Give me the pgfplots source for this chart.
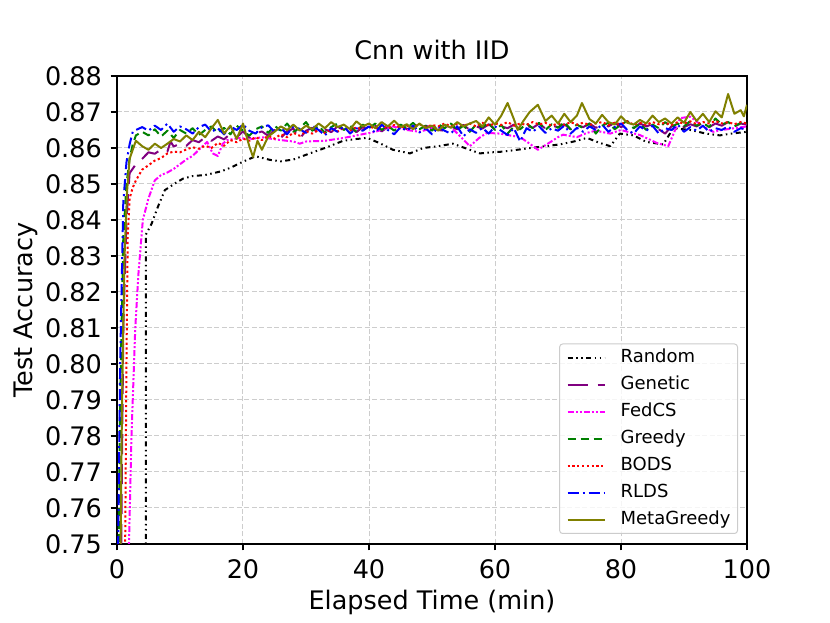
\documentclass[border=0pt]{standalone}
\usepackage{fontspec}
\setmainfont{DejaVu Sans}
\usepackage{pgfplots}
\pgfplotsset{compat=1.18}
\definecolor{mpurple}{RGB}{128,0,128}
\definecolor{molive}{RGB}{128,128,0}
\definecolor{mgreen}{RGB}{0,128,0}
\definecolor{mmagenta}{RGB}{255,0,255}
\definecolor{mred}{RGB}{255,0,0}
\definecolor{mblue}{RGB}{0,0,255}
\definecolor{gridc}{RGB}{205,205,205}
\definecolor{legc}{RGB}{204,204,204}
\begin{document}
\begin{tikzpicture}
\path[use as bounding box] (-117bp,-79bp) rectangle (713bp,544bp);
\begin{axis}[
  at={(0,0)}, anchor=south west,
  width=630bp, height=468bp, scale only axis,
  xmin=0, xmax=100, ymin=0.75, ymax=0.88,
  xtick={0,20,40,60,80,100},
  ytick={0.75,0.76,0.77,0.78,0.79,0.80,0.81,0.82,0.83,0.84,0.85,0.86,0.87,0.88},
  yticklabel style={/pgf/number format/fixed, /pgf/number format/fixed zerofill, /pgf/number format/precision=2, anchor=east, inner sep=0pt, xshift=-8.7bp},
  /pgf/number format/assume math mode=true,
  ticklabel style={font=\fontsize{25.5bp}{30bp}\selectfont},
  xticklabel style={anchor=base, inner sep=0pt, yshift=-27.7bp},
  grid=major,
  major grid style={gridc, line width=1bp, dash pattern=on 5bp off 2.5bp},
  axis line style={line width=1.4bp, black},
  tick style={line width=1.4bp, black},
  major tick length=6.3bp,
  tick align=outside,
  tick pos=left,
  no marks,
  title={Cnn with IID},
  title style={font=\fontsize{25.5bp}{30bp}\selectfont, at={(axis description cs:0.5,1.0231)}, anchor=base, inner sep=0pt},
  xlabel={Elapsed Time (min)},
  ylabel={Test Accuracy},
  xlabel style={font=\fontsize{25.5bp}{30bp}\selectfont, at={(axis description cs:0.5,-0.141)}, anchor=base, inner sep=0pt},
  ylabel style={font=\fontsize{25.5bp}{30bp}\selectfont, at={(axis description cs:-0.1349,0.5)}, anchor=base, inner sep=0pt},
  legend style={at={(axis description cs:1,0)}, anchor=south east, xshift=-9bp, yshift=10bp,
    draw=legc, line width=1bp, rounded corners=3bp, fill=white, fill opacity=0.8, text opacity=1,
    inner xsep=7bp, inner ysep=5bp, row sep=9.5bp, column sep=15bp,
    font=\fontsize{18bp}{21bp}\selectfont,
    nodes={inner sep=0pt, text height=13.5bp, text depth=4bp}},
  legend cell align=left,
  legend image code/.code={\draw[#1] (0bp,0bp) -- (37bp,0bp);},
  every axis plot/.append style={line width=2bp, line join=round},
]
% Random
\addplot[black, dash pattern=on 5bp off 3.5bp on 1.5bp off 3.5bp on 1.5bp off 3.5bp] coordinates {
(4.55,0.70)(4.6,0.836)(5.5,0.839)(6.5,0.8437)(7.6,0.8483)(9.5,0.8505)(10.5,0.8515)(12,0.8522)(14,0.8525)(16.5,0.8535)(18,0.8545)(20,0.8562)(22,0.8577)(24.3,0.8567)(26,0.8563)(28,0.8568)(30.6,0.8585)(33,0.8600)(35.9,0.8620)(38,0.8625)(39.7,0.8628)(41.5,0.8615)(43.8,0.8595)(46.5,0.8585)(48.6,0.8600)(51,0.8605)(53.3,0.8612)(56,0.8595)(57.6,0.8585)(59.5,0.8588)(61.3,0.8590)(63.5,0.8595)(65.6,0.8600)(68,0.8605)(70.3,0.8610)(72.5,0.8618)(74.6,0.8628)(76.5,0.8615)(78.3,0.8605)(79.8,0.8640)(82,0.8635)(84,0.8617)(86.7,0.8610)(88.3,0.8655)(91,0.8650)(93.5,0.8640)(95.7,0.8635)(97.5,0.8640)(100,0.8645)
};
\addlegendentry{Random}
% Genetic
\addplot[mpurple, dash pattern=on 20bp off 10bp] coordinates {
(0.4,0.70)(1,0.81)(1.5,0.840)(2,0.853)(3,0.8555)(4,0.8570)(5,0.8588)(6,0.8584)(7,0.8596)(8,0.8590)(8.5,0.8618)(9,0.8604)(10,0.8612)(11,0.8606)(12,0.8622)(13,0.8616)(14,0.8630)(15,0.8620)(16,0.8632)(17,0.8624)(18,0.8640)(19,0.8630)(20,0.8646)(21,0.8628)(22,0.8640)(23,0.8646)(24,0.8634)(25,0.8650)(26,0.8628)(27,0.8646)(28,0.8654)(29,0.8626)(30,0.8648)(31,0.8656)(32,0.8640)(33,0.8652)(34,0.8644)(35,0.8660)(36,0.8648)(37,0.8656)(38,0.8644)(39,0.8658)(40,0.8650)(41,0.8662)(42,0.8646)(43,0.8658)(44,0.8650)(45,0.8664)(46,0.8652)(47,0.8660)(48,0.8648)(49,0.8662)(50,0.8655)(51,0.8650)(52,0.8648)(53,0.8660)(54,0.8652)(55,0.8664)(56,0.8650)(57,0.8660)(58,0.8654)(59,0.8666)(60,0.8652)(61,0.8660)(62,0.8655)(63,0.8665)(64,0.8650)(65,0.8662)(66,0.8656)(67,0.8668)(68,0.8654)(69,0.8662)(70,0.8658)(71,0.8666)(72,0.8652)(73,0.8664)(74,0.8658)(75,0.8668)(76,0.8656)(77,0.8664)(78,0.8660)(79,0.8670)(80,0.8658)(81,0.8665)(82,0.8655)(83,0.8668)(84,0.8660)(85,0.8666)(86,0.8652)(87,0.8640)(88,0.8660)(89,0.8668)(90,0.8658)(91,0.8666)(92,0.8660)(93,0.8670)(94,0.8658)(95,0.8668)(96,0.8662)(97,0.8672)(98,0.8660)(99,0.8668)(100,0.8665)
};
\addlegendentry{Genetic}
% FedCS
\addplot[mmagenta, dash pattern=on 6bp off 2bp on 2bp off 2bp on 2bp off 2bp] coordinates {
(1.8,0.70)(1.9,0.75)(2.3,0.78)(2.9,0.81)(3.4,0.825)(4.1,0.840)(5,0.846)(6,0.8510)(7,0.8525)(8,0.8532)(9,0.8542)(10,0.8555)(11,0.8568)(12,0.8578)(13,0.8595)(14.3,0.8617)(15.2,0.8585)(16,0.8578)(16.8,0.8612)(17.5,0.8622)(18.5,0.8625)(19.5,0.8628)(21,0.8624)(23,0.8630)(24,0.8627)(26,0.8622)(28,0.8618)(29,0.8612)(30,0.8618)(33,0.8620)(36,0.8628)(38.6,0.8637)(41,0.8645)(43.8,0.8660)(46,0.8650)(48,0.8645)(50,0.8655)(52.9,0.8660)(54.5,0.8632)(56,0.8605)(57.5,0.8628)(58.7,0.8642)(60.8,0.8640)(62,0.8636)(64,0.8630)(65.5,0.8612)(66.8,0.8595)(68.2,0.8610)(70,0.8630)(70.8,0.8637)(73,0.8630)(74.6,0.8642)(76,0.8648)(78.3,0.8640)(80,0.8650)(83,0.8636)(85.7,0.8614)(87.5,0.8605)(89.4,0.8683)(91,0.8687)(93,0.8660)(94.6,0.8645)(96,0.8650)(98,0.8655)(100,0.8660)
};
\addlegendentry{FedCS}
% Greedy
\addplot[mgreen, dash pattern=on 8bp off 5bp] coordinates {
(0,0.70)(0.5,0.79)(1,0.835)(1.5,0.850)(2,0.857)(2.5,0.861)(3,0.8635)(4,0.8645)(5,0.8635)(6,0.8652)(7,0.8632)(8,0.8648)(9,0.8628)(10,0.8650)(11,0.8640)(12,0.8655)(13,0.8636)(14,0.8650)(15,0.8660)(16,0.8642)(17,0.8656)(18,0.8638)(19,0.8662)(20,0.8648)(21,0.8634)(22,0.8652)(23,0.8660)(24,0.8642)(25,0.8662)(26,0.8648)(27,0.8668)(28,0.8645)(29,0.8655)(30,0.8672)(31,0.8648)(32,0.8662)(33,0.8642)(34,0.8658)(35,0.8668)(36,0.8650)(37,0.8662)(38,0.8645)(39,0.8665)(40,0.8655)(41,0.8668)(42,0.8650)(43,0.8662)(44,0.8648)(45,0.8665)(46,0.8655)(47,0.8670)(48,0.8652)(49,0.8662)(50,0.8648)(51,0.8666)(52,0.8655)(53,0.8668)(54,0.8650)(55,0.8662)(56,0.8645)(57,0.8665)(58,0.8658)(59,0.8670)(60,0.8650)(61,0.8664)(62,0.8640)(63,0.8660)(64,0.8652)(65,0.8668)(66,0.8655)(67,0.8670)(68,0.8650)(69,0.8666)(70,0.8656)(71,0.8672)(72,0.8652)(73,0.8665)(74,0.8655)(75,0.8668)(76,0.8640)(77,0.8662)(78,0.8670)(79,0.8652)(80,0.8665)(81,0.8675)(82,0.8655)(83,0.8668)(84,0.8650)(85,0.8665)(86,0.8655)(87,0.8672)(88,0.8658)(89,0.8668)(90,0.8660)(91,0.8675)(92,0.8662)(93,0.8670)(94,0.8658)(95,0.8682)(96,0.8665)(97,0.8672)(98,0.8660)(99,0.8670)(100,0.8668)
};
\addlegendentry{Greedy}
% BODS
\addplot[mred, dash pattern=on 2.2bp off 2.6bp] coordinates {
(1.1,0.70)(1.3,0.75)(1.5,0.80)(1.7,0.835)(2,0.846)(2.5,0.849)(3,0.851)(4,0.8540)(5,0.8552)(6,0.8565)(7,0.8572)(8,0.8585)(9,0.8590)(10,0.8588)(11,0.8596)(12,0.8602)(13,0.8598)(14,0.8606)(15,0.8600)(16,0.8614)(17,0.8606)(18,0.8622)(19,0.8616)(20,0.8626)(21,0.8620)(22,0.8630)(23,0.8622)(24,0.8634)(25,0.8626)(26,0.8638)(27,0.8630)(28,0.8642)(29,0.8634)(30,0.8646)(31,0.8640)(32,0.8650)(33,0.8642)(34,0.8652)(35,0.8646)(36,0.8656)(37,0.8648)(38,0.8658)(39,0.8650)(40,0.8660)(41,0.8654)(42,0.8662)(43,0.8655)(44,0.8664)(45,0.8656)(46,0.8662)(47,0.8658)(48,0.8666)(49,0.8658)(50,0.8664)(51,0.8660)(52,0.8668)(53,0.8660)(54,0.8666)(55,0.8662)(56,0.8668)(57,0.8660)(58,0.8670)(59,0.8662)(60,0.8668)(61,0.8664)(62,0.8672)(63,0.8662)(64,0.8668)(65,0.8664)(66,0.8672)(67,0.8665)(68,0.8670)(69,0.8662)(70,0.8668)(71,0.8664)(72,0.8672)(73,0.8665)(74,0.8670)(75,0.8664)(76,0.8668)(77,0.8672)(78,0.8664)(79,0.8670)(80,0.8666)(81,0.8674)(82,0.8665)(83,0.8670)(84,0.8664)(85,0.8672)(86,0.8666)(87,0.8670)(88,0.8664)(89,0.8672)(90,0.8668)(91,0.8674)(92,0.8666)(93,0.8672)(94,0.8668)(95,0.8675)(96,0.8668)(97,0.8672)(98,0.8666)(99,0.8672)(100,0.8668)
};
\addlegendentry{BODS}
% RLDS
\addplot[mblue, dash pattern=on 11bp off 4bp on 2bp off 4bp] coordinates {
(0,0.72)(0.5,0.80)(1,0.845)(1.5,0.856)(2,0.861)(2.5,0.8645)(3,0.8650)(4,0.8658)(5,0.8648)(6,0.8662)(7,0.8650)(8,0.8668)(9,0.8645)(10,0.8660)(11,0.8652)(12,0.8640)(13,0.8658)(14,0.8665)(15,0.8645)(16,0.8655)(17,0.8638)(18,0.8660)(19,0.8650)(20,0.8665)(21,0.8648)(22,0.8640)(23,0.8658)(24,0.8663)(25,0.8645)(26,0.8656)(27,0.8638)(28,0.8660)(29,0.8652)(30,0.8642)(31,0.8662)(32,0.8650)(33,0.8635)(34,0.8655)(35,0.8645)(36,0.8660)(37,0.8640)(38,0.8655)(39,0.8648)(40,0.8660)(41,0.8642)(42,0.8665)(43,0.8650)(44,0.8638)(45,0.8658)(46,0.8648)(47,0.8662)(48,0.8643)(49,0.8655)(50,0.8638)(51,0.8658)(52,0.8648)(53,0.8640)(54,0.8660)(55,0.8632)(56,0.8652)(57,0.8642)(58,0.8656)(59,0.8640)(60,0.8660)(61,0.8648)(62,0.8636)(63,0.8655)(64,0.8618)(65,0.8655)(66,0.8645)(67,0.8660)(68,0.8642)(69,0.8655)(70,0.8648)(71,0.8662)(72,0.8640)(73,0.8656)(74,0.8645)(75,0.8660)(76,0.8650)(77,0.8665)(78,0.8645)(79,0.8658)(80,0.8668)(81,0.8650)(82,0.8640)(83,0.8660)(84,0.8648)(85,0.8662)(86,0.8640)(87,0.8655)(88,0.8650)(89,0.8665)(90,0.8645)(91,0.8658)(92,0.8648)(93,0.8662)(94,0.8645)(95,0.8655)(96,0.8650)(97,0.8660)(98,0.8645)(99,0.8655)(100,0.8650)
};
\addlegendentry{RLDS}
% MetaGreedy
\addplot[molive] coordinates {
(0.3,0.70)(0.8,0.79)(1.2,0.83)(1.6,0.848)(2,0.857)(3,0.8620)(4,0.8605)(5,0.8595)(6,0.8612)(7,0.8600)(8,0.8612)(9,0.8625)(10,0.8618)(11,0.8635)(12,0.8622)(13,0.8645)(14,0.8630)(15,0.8655)(16,0.8678)(17,0.8640)(18,0.8662)(19,0.8625)(20,0.8668)(21,0.8605)(21.6,0.8575)(22.3,0.8620)(23,0.8595)(24,0.8632)(25,0.8645)(26,0.8660)(27,0.8650)(28,0.8665)(29,0.8648)(30,0.8662)(31,0.8652)(32,0.8668)(33,0.8655)(34,0.8672)(35,0.8658)(36,0.8665)(37,0.8652)(38,0.8674)(39,0.8660)(40,0.8668)(41,0.8655)(42,0.8672)(43,0.8660)(44,0.8676)(45,0.8658)(46,0.8666)(47,0.8652)(48,0.8668)(49,0.8655)(50,0.8662)(51,0.8648)(52,0.8665)(53,0.8656)(54,0.8672)(55,0.8660)(56,0.8668)(57,0.8675)(58,0.8660)(59,0.8685)(60,0.8665)(61,0.8690)(62,0.8725)(63,0.8680)(63.6,0.8650)(64.5,0.8675)(65.5,0.8700)(66.8,0.8720)(68,0.8675)(69,0.8690)(70,0.8668)(71,0.8695)(72,0.8672)(73,0.8690)(73.8,0.8725)(75,0.8680)(76,0.8668)(77,0.8692)(78,0.8672)(79,0.8665)(80,0.8688)(81,0.8670)(82,0.8665)(83,0.8678)(84,0.8668)(85,0.8690)(86,0.8672)(87,0.8682)(88,0.8668)(89,0.8685)(90,0.8670)(91,0.8700)(92,0.8675)(93,0.8695)(94,0.8672)(95,0.8702)(96,0.8685)(97,0.8750)(98,0.8695)(99,0.8705)(99.5,0.8688)(100,0.8720)
};
\addlegendentry{MetaGreedy}
\end{axis}
\end{tikzpicture}
\end{document}
